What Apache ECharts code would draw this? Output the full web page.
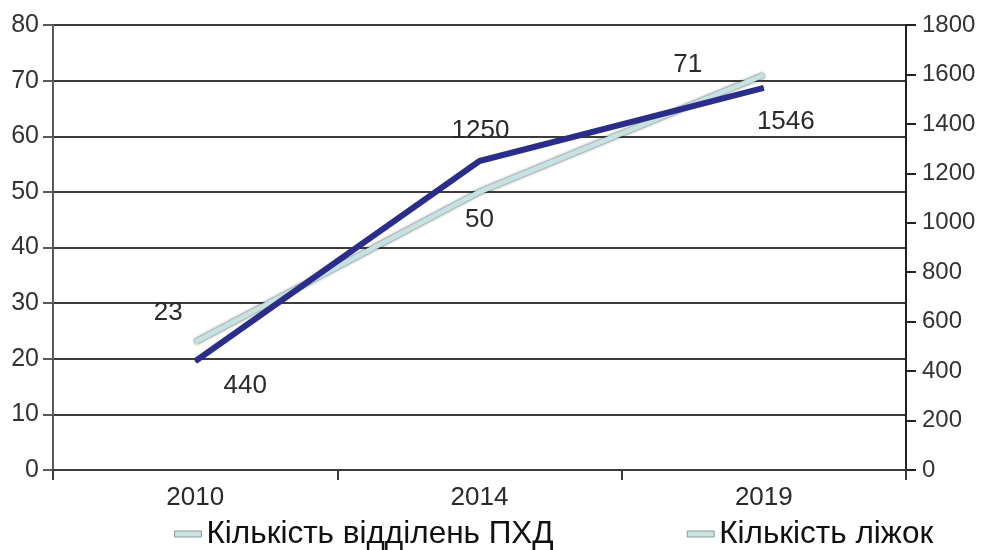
<!DOCTYPE html>
<html>
<head>
<meta charset="utf-8">
<script src="https://cdn.jsdelivr.net/npm/echarts@6/dist/echarts.min.js"></script>
<style>
  html, body { margin: 0; padding: 0; background: #fff; }
  #chart { width: 984px; height: 550px; }
</style>
</head>
<body>
<div id="chart"></div>
<script>
// Years on the category axis
const years = ['2010', '2014', '2019'];
// Number of departments (left axis)
const departments = [23, 50, 71];
// Number of beds (right axis)
const beds = [440, 1250, 1546];
// Axis scales: [min, max, step]
const leftScale = [0, 80, 10];
const rightScale = [0, 1800, 200];
const seriesNames = ['Кількість відділень ПХД', 'Кількість ліжок'];

// Where each value label sits relative to its point
const deptLabelOffsets = [[-27, -29], [0, 28], [-76, -10]];
const bedLabelOffsets = [[50, 25], [1, -30], [22, 34]];

const FONT = "'Liberation Sans', Arial, sans-serif";
const AXIS_DARK = '#3c3c3c';

const chart = echarts.init(document.getElementById('chart'), null, { renderer: 'canvas' });

const labelBase = {
  show: true,
  position: 'inside',
  align: 'center',
  verticalAlign: 'middle',
  fontFamily: FONT,
  fontSize: 26,
  color: '#2a2a2a'
};

chart.setOption({
  backgroundColor: '#ffffff',
  animation: false,
  textStyle: { fontFamily: FONT },
  grid: {
    left: 53, right: 78, top: 25, bottom: 80,
    containLabel: false,
    outerBoundsMode: 'none'
  },
  legend: {
    left: 169, top: 513,
    itemGap: 133,
    itemWidth: 27, itemHeight: 6,
    icon: 'rect',
    textStyle: { fontFamily: FONT, fontSize: 31.5, color: '#111' },
    data: seriesNames.map(n => ({
      name: n,
      icon: 'rect',
      itemStyle: { color: '#c9e3e3', borderColor: '#8f9a9a', borderWidth: 1 }
    }))
  },
  xAxis: {
    type: 'category',
    data: years,
    boundaryGap: true,
    axisLine: { show: true, lineStyle: { color: AXIS_DARK, width: 2 } },
    axisTick: { show: true, length: 10, lineStyle: { color: AXIS_DARK, width: 2 } },
    axisLabel: { margin: 15, fontFamily: FONT, fontSize: 26, color: '#2a2a2a' },
    splitLine: { show: false }
  },
  yAxis: [
    {
      type: 'value',
      min: leftScale[0], max: leftScale[1], interval: leftScale[2],
      position: 'left',
      axisLine: { show: true, lineStyle: { color: '#5a5a5a', width: 2 } },
      axisTick: { show: true, length: 10, lineStyle: { color: '#5a5a5a', width: 2 } },
      axisLabel: { margin: 14, fontFamily: FONT, fontSize: 25, color: '#333' },
      splitLine: { show: true, lineStyle: { color: AXIS_DARK, width: 2 } }
    },
    {
      type: 'value',
      min: rightScale[0], max: rightScale[1], interval: rightScale[2],
      position: 'right',
      axisLine: { show: true, lineStyle: { color: '#222', width: 2 } },
      axisTick: { show: true, length: 10, lineStyle: { color: '#222', width: 2 } },
      axisLabel: {
        margin: 16, fontFamily: FONT, fontSize: 24, color: '#333',
        formatter: v => String(v)
      },
      splitLine: { show: false }
    }
  ],
  series: [
    {
      name: seriesNames[0],
      type: 'line',
      yAxisIndex: 0,
      data: departments.map((v, i) => ({ value: v, label: { offset: deptLabelOffsets[i] } })),
      symbol: 'circle',
      symbolSize: 1,
      showSymbol: true,
      itemStyle: { color: '#c9e3e3' },
      lineStyle: {
        color: '#c6e2e2', width: 5,
        shadowColor: 'rgba(40,50,50,0.9)', shadowBlur: 3
      },
      label: labelBase,
      z: 2
    },
    {
      name: seriesNames[1],
      type: 'line',
      yAxisIndex: 1,
      data: beds.map((v, i) => ({ value: v, label: { offset: bedLabelOffsets[i] } })),
      symbol: 'circle',
      symbolSize: 1,
      showSymbol: true,
      itemStyle: { color: '#2b2d8a' },
      lineStyle: { color: '#2b2d8a', width: 6 },
      label: labelBase,
      z: 3
    }
  ]
});
</script>
</body>
</html>
